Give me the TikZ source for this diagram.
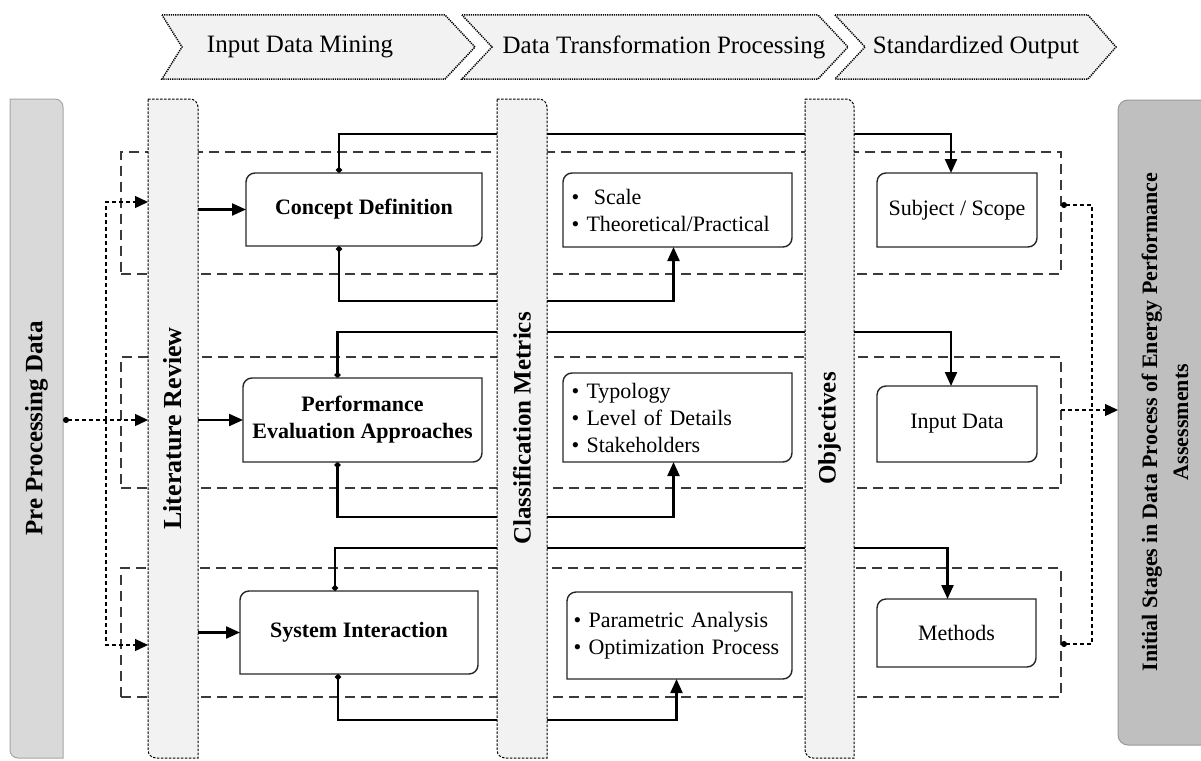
\documentclass[tikz,border=0pt]{standalone}
\usepackage{fontspec}
\setmainfont{Liberation Serif}
\usetikzlibrary{arrows.meta}

\definecolor{barfill}{HTML}{F2F2F2}
\definecolor{prefill}{HTML}{D9D9D9}
\definecolor{finfill}{HTML}{BFBFBF}
\definecolor{framegray}{HTML}{3A3A3A}

\tikzset{
  chev/.style={draw, fill=barfill, line width=1.5pt, dash pattern=on 1.2pt off 1pt},
  chevtext/.style={font=\fontsize{25}{30}\selectfont},
  holder/.style={inner sep=0pt, outer sep=0pt},
  boxtext/.style={holder, font=\fontsize{22}{27}\selectfont\bfseries, align=center},
  listtext/.style={holder, font=\fontsize{22}{27}\selectfont, text width=212pt, align=left},
  plaintext/.style={holder, font=\fontsize{22}{27}\selectfont},
  frame/.style={holder, draw=framegray, line width=1.5pt, dash pattern=on 10pt off 6pt},
  bartext/.style={rotate=90, font=\fontsize{25}{30}\selectfont\bfseries},
  feed/.style={line width=2.2pt, {Circle[length=6pt]}-{Triangle[length=14pt,width=12pt]}},
  feedin/.style={line width=2.2pt, -{Triangle[length=14pt,width=12pt]}},
  dotlink/.style={line width=1.3pt, dash pattern=on 4pt off 3pt},
}

% box with rounded top left and bottom right corners
\newcommand{\roundbox}[2][]{%
  \draw[line width=1.4pt, draw=black!85, #1] ([yshift=-9pt]#2.north west) arc[start angle=180, end angle=90, radius=9pt]
    -- (#2.north east) -- ([yshift=9pt]#2.south east) arc[start angle=0, end angle=-90, radius=9pt]
    -- (#2.south west) -- cycle;}
% bar with rounded top right and bottom left corners
\newcommand{\roundbar}[2][]{%
  \filldraw[line width=1pt, #1] (#2.north west) -- ([xshift=-8pt]#2.north east) arc[start angle=90, end angle=0, radius=8pt]
    -- (#2.south east) -- ([xshift=8pt]#2.south west) arc[start angle=270, end angle=180, radius=8pt]
    -- cycle;}

\begin{document}
\begin{tikzpicture}[x=1pt, y=-1pt]
    \useasboundingbox (0,0) rectangle (1201,760);

    % process stages
    \draw[chev] (162,15) -- (445,15) -- (475,47) -- (445,79) -- (162,79) -- (182,47) -- cycle;
    \draw[chev] (462,15) -- (818,15) -- (848,47) -- (818,79) -- (462,79) -- (492,47) -- cycle;
    \draw[chev] (835,15) -- (1088,15) -- (1116,47) -- (1088,79) -- (835,79) -- (865,47) -- cycle;
    \node[chevtext] (ch1) at (300,47) {Input Data Mining};
    \node[chevtext] (ch2) at (664,47) {Data Transformation Processing};
    \node[chevtext] (ch3) at (976,47) {Standardized Output};

    % bars
    \node[holder, minimum width=53, minimum height=659] (pre) at (36.5,428.5) {};
    \node[holder, minimum width=50, minimum height=659] (lit) at (173,428.5) {};
    \node[holder, minimum width=50, minimum height=659] (cls) at (522,428.5) {};
    \node[holder, minimum width=49, minimum height=659] (obj) at (829.5,428.5) {};
    \node[holder, minimum width=112, minimum height=645] (fin) at (1174,422.5) {};

    % boxes
    \node[boxtext, minimum width=236, minimum height=73] (cd) at (364,209.5) {Concept Definition};
    \node[boxtext, minimum width=239, minimum height=84] (pea) at (362.5,420) {Performance\\Evaluation Approaches};
    \node[boxtext, minimum width=238, minimum height=83] (si) at (359,632.5) {System Interaction};
    \node[listtext, minimum width=229, minimum height=74] (sc) at (677.5,210) {•\ \ Scale\\• Theoretical/Practical};
    \node[listtext, minimum width=229, minimum height=89] (ty) at (677.5,417.5) {• Typology\\• Level of Details\\• Stakeholders};
    \node[listtext, minimum width=225, minimum height=87] (pa) at (679.5,635.5) {• Parametric Analysis\\• Optimization Process};
    \node[plaintext, minimum width=160, minimum height=74] (sub) at (957,210) {Subject / Scope};
    \node[plaintext, minimum width=160, minimum height=76] (ind) at (957,424) {Input Data};
    \node[plaintext, minimum width=159, minimum height=68] (me) at (956.5,633) {Methods};

    % dashed rows
    \node[frame, minimum width=940, minimum height=122] (f1) at (591,213) {};
    \node[frame, minimum width=940, minimum height=131] (f2) at (591,422.5) {};
    \node[frame, minimum width=940, minimum height=129] (f3) at (591,632.5) {};

    % links between the rows
    \draw[feed] ([xshift=-25pt]cd.north) -- ++(0,-39) -| ([xshift=-6pt]sub.north);
    \draw[feed] ([xshift=-25pt]cd.south) -- ++(0,55) -| ([xshift=-4pt]sc.south);
    \draw[feed] ([xshift=-25pt]pea.north) -- ++(0,-46) -| ([xshift=-6pt]ind.north);
    \draw[feed] ([xshift=-25pt]pea.south) -- ++(0,55) -| ([xshift=-4pt]ty.south);
    \draw[feed] ([xshift=-24pt]si.north) -- ++(0,-43) -| ([xshift=-9pt]me.north);
    \draw[feed] ([xshift=-21pt]si.south) -- ++(0,46) -| ([xshift=-3pt]pa.south);

    % fill bars
    \roundbar[fill=prefill, draw=gray!70]{pre}
    \roundbar[fill=barfill, dash pattern=on 2.5pt off 1.5pt]{lit}
    \roundbar[fill=barfill, dash pattern=on 2.5pt off 1.5pt]{cls}
    \roundbar[fill=barfill, dash pattern=on 2.5pt off 1.5pt]{obj}
    \filldraw[fill=finfill, draw=gray!80, line width=1pt, rounded corners=10pt] (fin.north west) rectangle (fin.south east);

    \node[bartext] (pretxt) at (pre) {Pre Processing Data};
    \node[bartext, font=\fontsize{26}{30}\selectfont\bfseries] (littxt) at (lit) {Literature Review};
    \node[bartext] (clstxt) at (cls) {Classification Metrics};
    \node[bartext] (objtxt) at (obj) {Objectives};
    \node[bartext, font=\fontsize{22}{31}\selectfont\bfseries, align=center] (fintxt) at (1165,422)
      {Initial Stages in Data Process of Energy Performance\\Assessments};

    % box outlines
    \foreach \b in {cd,pea,si,sc,ty,pa,sub,ind,me}
      \roundbox{\b};

    % review to concepts
    \draw[feedin] (lit.east |- cd.west) -- (cd.west);
    \draw[feedin] (lit.east |- pea.west) -- (pea.west);
    \draw[feedin] (lit.east |- si.west) -- (si.west);

    % pre processing input
    \coordinate (split) at (106,420);
    \draw[dotlink, {Circle[length=6pt]}-{Triangle[length=13pt,width=12pt]}] (pre.east |- pea.west) -- (lit.west |- pea.west);
    \draw[dotlink, -{Triangle[length=13pt,width=12pt]}] (split) |- (lit.west |- 0,202);
    \draw[dotlink, -{Triangle[length=13pt,width=12pt]}] (split) |- (lit.west |- 0,645);

    % output to initial stages
    \coordinate (join) at (1092,410);
    \draw[dotlink, {Circle[length=6pt]}-] (f1.east |- 0,205) -| (join);
    \draw[dotlink, {Circle[length=6pt]}-] (f3.east |- 0,644) -| (join);
    \draw[dotlink, -{Triangle[length=13pt,width=12pt]}] (f2.east |- join) -- (fin.west |- join);
\end{tikzpicture}
\end{document}
